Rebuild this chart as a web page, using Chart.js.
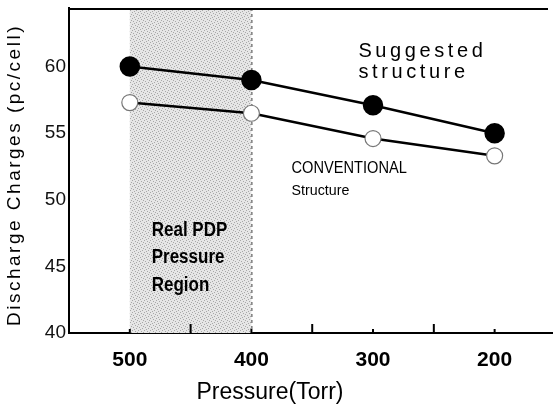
<!DOCTYPE html>
<html>
<head>
<meta charset="utf-8">
<script src="https://cdn.jsdelivr.net/npm/chart.js@4.4.0/dist/chart.umd.min.js"></script>
<style>
    html, body { margin: 0; padding: 0; background: #fff; }
    #wrap { width: 553px; height: 414px; }
</style>
</head>
<body>
<div id="wrap"><canvas id="pressureChart"></canvas></div>
<script>
// Data
const pressures = [500, 400, 300, 200];
const suggested = [60.0, 59.0, 57.1, 55.0];
const conventional = [57.3, 56.5, 54.6, 53.3];
const yTicks = [40, 45, 50, 55, 60];
const xTicks = [500, 400, 300, 200];
const minorTicks = [450, 350, 250];
const pdpRegion = [500, 400];

const sans = "'Liberation Sans', Arial, sans-serif";

// dotted gray fill for the PDP region
function makePattern(ctx) {
    const c = document.createElement('canvas');
    c.width = 6; c.height = 6;
    const g = c.getContext('2d');
    g.fillStyle = '#e6e6e6';
    g.fillRect(0, 0, 6, 6);
    g.fillStyle = '#a8a8a8';
    [[0, 0], [3, 1], [1, 3], [4, 4], [2, 5], [5, 2]].forEach(p => g.fillRect(p[0], p[1], 1, 1));
    return ctx.createPattern(c, 'repeat');
}

// squeezed / spaced text, the figure uses a narrow face
function narrowText(ctx, text, x, y, sx, spacing) {
    ctx.save();
    ctx.translate(x, y);
    ctx.scale(sx, 1);
    ctx.letterSpacing = (spacing || 0) + 'px';
    ctx.fillText(text, 0, 0);
    ctx.restore();
}

const decor = {
    id: 'decor',
    beforeDatasetsDraw(chart) {
        const { ctx, chartArea: a, scales: { x, y } } = chart;
        ctx.save();
        const x0 = x.getPixelForValue(pdpRegion[0]);
        const x1 = x.getPixelForValue(pdpRegion[1]);
        ctx.fillStyle = makePattern(ctx);
        ctx.fillRect(x0, a.top, x1 - x0, a.bottom - a.top);

        ctx.strokeStyle = '#444';
        ctx.lineWidth = 1;
        ctx.setLineDash([3, 3]);
        ctx.beginPath();
        ctx.moveTo(x1 + 0.5, a.top);
        ctx.lineTo(x1 + 0.5, a.bottom);
        ctx.stroke();
        ctx.setLineDash([]);

        // top frame line
        ctx.strokeStyle = '#000';
        ctx.lineWidth = 2;
        ctx.beginPath();
        ctx.moveTo(a.left, a.top + 1);
        ctx.lineTo(a.right - 5, a.top + 1);
        ctx.stroke();

        // inward tick marks
        xTicks.forEach(v => {
            const px = x.getPixelForValue(v);
            ctx.beginPath(); ctx.moveTo(px, a.bottom); ctx.lineTo(px, a.bottom - 4); ctx.stroke();
        });
        minorTicks.forEach(v => {
            const px = x.getPixelForValue(v);
            ctx.beginPath(); ctx.moveTo(px, a.bottom); ctx.lineTo(px, a.bottom - 9); ctx.stroke();
        });

        // annotations
        ctx.fillStyle = '#000';
        ctx.textBaseline = 'middle';
        ctx.textAlign = 'left';
        ctx.font = 'bold 20px ' + sans;
        const rx = x.getPixelForValue(482);
        ['Real PDP', 'Pressure', 'Region'].forEach((t, i) => {
            narrowText(ctx, t, rx, 230 + i * 27.5, 0.85);
        });

        ctx.font = '20px ' + sans;
        const sx = x.getPixelForValue(312);
        narrowText(ctx, 'Suggested', sx, 51, 1, 3.6);
        narrowText(ctx, 'structure', sx, 72, 1, 3.6);

        ctx.font = '17px ' + sans;
        const cx = x.getPixelForValue(367);
        narrowText(ctx, 'CONVENTIONAL', cx, 168, 0.86);
        ctx.font = '15px ' + sans;
        narrowText(ctx, 'Structure', cx, 191, 0.95);

        // axis titles
        ctx.font = '23px ' + sans;
        ctx.textAlign = 'center';
        ctx.fillText('Pressure(Torr)', 270, 393);

        ctx.save();
        ctx.translate(15, 175);
        ctx.rotate(-Math.PI / 2);
        ctx.font = '19px ' + sans;
        ctx.letterSpacing = '2.5px';
        ctx.fillText('Discharge Charges (pc/cell)', 0, 0);
        ctx.restore();
        ctx.restore();
    }
};

new Chart(document.getElementById('pressureChart').getContext('2d'), {
    type: 'line',
    data: {
        datasets: [
            {
                label: 'Suggested structure',
                data: pressures.map((p, i) => ({ x: p, y: suggested[i] })),
                borderColor: '#000',
                borderWidth: 2.5,
                pointRadius: 9,
                pointBackgroundColor: '#000',
                pointBorderColor: '#000',
                tension: 0
            },
            {
                label: 'CONVENTIONAL Structure',
                data: pressures.map((p, i) => ({ x: p, y: conventional[i] })),
                borderColor: '#000',
                borderWidth: 2.5,
                pointRadius: 8,
                pointBackgroundColor: '#fff',
                pointBorderColor: '#777',
                pointBorderWidth: 1.2,
                tension: 0
            }
        ]
    },
    options: {
        responsive: true,
        maintainAspectRatio: false,
        animation: false,
        layout: { autoPadding: false, padding: { top: 8, right: 0, left: 0, bottom: 0 } },
        plugins: {
            legend: { display: false },
            tooltip: { enabled: false }
        },
        scales: {
            x: {
                type: 'linear',
                reverse: true,
                min: 152,
                max: 550,
                afterFit: s => {
                    s.height = 81;
                    s.paddingLeft = 0; s.paddingRight = 0;
                },
                afterBuildTicks: s => { s.ticks = xTicks.map(v => ({ value: v })); },
                grid: { display: false, tickLength: 0 },
                border: { display: true, color: '#000', width: 2 },
                ticks: {
                    color: '#000',
                    padding: 15,
                    font: { family: sans, size: 21, weight: 'bold' }
                }
            },
            y: {
                min: 40,
                max: 64.4,
                afterFit: s => {
                    s.width = 69;
                    s.paddingTop = 0; s.paddingBottom = 0;
                },
                afterBuildTicks: s => { s.ticks = yTicks.map(v => ({ value: v })); },
                grid: { display: false, tickLength: 0 },
                border: { display: true, color: '#000', width: 2 },
                ticks: {
                    color: '#111',
                    padding: 3,
                    font: { family: sans, size: 19 }
                }
            }
        }
    },
    plugins: [decor]
});
</script>
</body>
</html>
